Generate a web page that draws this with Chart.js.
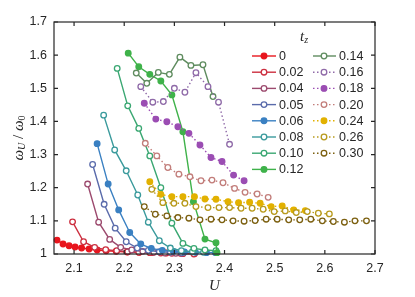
<!DOCTYPE html>
<html>
<head>
<meta charset="utf-8">
<script src="https://cdn.jsdelivr.net/npm/chart.js@4/dist/chart.umd.min.js"></script>
<style>
  html, body { margin: 0; padding: 0; background: #fff; }
  #wrap { width: 415px; height: 297px; }
</style>
</head>
<body>
<div id="wrap"><canvas id="chart" width="415" height="297"></canvas></div>
<script>
// legend labels (t_z)
const tzLabels = ['0', '0.02', '0.04', '0.05', '0.06', '0.08', '0.10', '0.12',
                  '0.14', '0.16', '0.18', '0.20', '0.24', '0.26', '0.30'];

// tick labels
const xTicks = [2.1, 2.2, 2.3, 2.4, 2.5, 2.6, 2.7];
const yTicks = [1, 1.1, 1.2, 1.3, 1.4, 1.5, 1.6, 1.7];

// U values and omega_U/omega_0 values, one pair per t_z
const u000 = [2.066, 2.078, 2.09, 2.102, 2.115, 2.13, 2.146, 2.164, 2.184, 2.206, 2.23, 2.256, 2.284, 2.312, 2.34];
const w000 = [1.042, 1.03, 1.025, 1.021, 1.018, 1.015, 1.012, 1.01, 1.008, 1.006, 1.005, 1.004, 1.003, 1.002, 1.001];

const u002 = [2.097, 2.119, 2.141, 2.163, 2.185, 2.207, 2.229, 2.251, 2.273, 2.295, 2.317, 2.339];
const w002 = [1.097, 1.037, 1.02, 1.013, 1.01, 1.007, 1.005, 1.004, 1.003, 1.002, 1.001, 1.0];

const u004 = [2.127, 2.149, 2.171, 2.193, 2.215, 2.237, 2.259, 2.281, 2.303];
const w004 = [1.211, 1.096, 1.044, 1.02, 1.012, 1.008, 1.005, 1.003, 1.002];

const u005 = [2.137, 2.16, 2.182, 2.204, 2.226, 2.248, 2.27, 2.292, 2.314];
const w005 = [1.27, 1.15, 1.078, 1.037, 1.018, 1.011, 1.007, 1.005, 1.003];

const u006 = [2.146, 2.168, 2.189, 2.211, 2.233, 2.254, 2.276, 2.298, 2.32, 2.342, 2.364, 2.382];
const w006 = [1.333, 1.211, 1.133, 1.065, 1.03, 1.017, 1.011, 1.008, 1.006, 1.005, 1.004, 1.004];

const u008 = [2.159, 2.181, 2.204, 2.227, 2.248, 2.27, 2.292, 2.314, 2.336, 2.358];
const w008 = [1.419, 1.314, 1.251, 1.178, 1.096, 1.04, 1.018, 1.01, 1.007, 1.005];

const u010 = [2.186, 2.207, 2.229, 2.251, 2.273, 2.295, 2.317, 2.339, 2.361, 2.383];
const w010 = [1.56, 1.447, 1.379, 1.296, 1.2, 1.093, 1.032, 1.017, 1.012, 1.01];

const u012 = [2.208, 2.229, 2.251, 2.273, 2.295, 2.317, 2.338, 2.361, 2.383, 2.385];
const w012 = [1.606, 1.565, 1.542, 1.522, 1.48, 1.369, 1.158, 1.045, 1.034, 1.004];

const u014 = [2.224, 2.245, 2.268, 2.29, 2.311, 2.333, 2.357, 2.377];
const w014 = [1.546, 1.515, 1.548, 1.542, 1.594, 1.569, 1.571, 1.475];

const u016 = [2.233, 2.257, 2.278, 2.3, 2.321, 2.343, 2.367, 2.388, 2.41];
const w016 = [1.505, 1.458, 1.46, 1.5, 1.488, 1.547, 1.505, 1.458, 1.331];

const u018 = [2.24, 2.263, 2.285, 2.307, 2.329, 2.351, 2.373, 2.395, 2.418, 2.439];
const w018 = [1.455, 1.407, 1.399, 1.384, 1.364, 1.329, 1.291, 1.279, 1.238, 1.221];

const u020 = [2.242, 2.265, 2.287, 2.309, 2.331, 2.353, 2.375, 2.397, 2.42, 2.441, 2.465, 2.487];
const w020 = [1.334, 1.296, 1.261, 1.241, 1.233, 1.221, 1.223, 1.215, 1.198, 1.186, 1.181, 1.171];

const u024 = [2.251, 2.273, 2.295, 2.317, 2.34, 2.361, 2.383, 2.407, 2.428, 2.45, 2.471, 2.493, 2.515, 2.538, 2.561];
const w024 = [1.218, 1.18, 1.173, 1.173, 1.173, 1.166, 1.165, 1.158, 1.155, 1.156, 1.153, 1.143, 1.145, 1.133, 1.131];

const u026 = [2.255, 2.277, 2.299, 2.321, 2.343, 2.367, 2.389, 2.41, 2.433, 2.455, 2.477, 2.499, 2.521, 2.543, 2.565, 2.587, 2.609];
const w026 = [1.195, 1.155, 1.153, 1.153, 1.143, 1.14, 1.14, 1.14, 1.138, 1.138, 1.135, 1.128, 1.13, 1.125, 1.128, 1.123, 1.121];

const u030 = [2.24, 2.262, 2.285, 2.307, 2.329, 2.351, 2.373, 2.395, 2.417, 2.439, 2.461, 2.483, 2.505, 2.528, 2.55, 2.572, 2.595, 2.617, 2.639, 2.66, 2.683];
const w030 = [1.143, 1.12, 1.115, 1.11, 1.108, 1.103, 1.105, 1.103, 1.1, 1.099, 1.101, 1.105, 1.105, 1.103, 1.103, 1.105, 1.1, 1.098, 1.096, 1.1, 1.1];

const uAll = [u000, u002, u004, u005, u006, u008, u010, u012, u014, u016, u018, u020, u024, u026, u030];
const wAll = [w000, w002, w004, w005, w006, w008, w010, w012, w014, w016, w018, w020, w024, w026, w030];

// styles: colour, filled marker, dotted line
const colors = ['#e8161e', '#cc2f3f', '#9c4a6e', '#5a6bab', '#3a80c2', '#3a9a9c', '#3aa772', '#3fb24a',
                '#5f8c5f', '#8f6aa8', '#9b4db3', '#c27d7a', '#e2b100', '#b89a1c', '#7c6010'];
const filled = [true, false, false, false, true, false, false, true,
                false, false, true, false, true, false, false];
const dotted = [false, false, false, false, false, false, false, false,
                false, true, true, true, true, true, true];

const datasets = tzLabels.map((lab, i) => ({
  label: lab,
  data: uAll[i].map((u, k) => ({ x: u, y: wAll[i][k] })),
  borderColor: colors[i],
  backgroundColor: colors[i],
  pointBackgroundColor: filled[i] ? colors[i] : '#ffffff',
  pointBorderColor: colors[i],
  pointRadius: 2.8,
  pointBorderWidth: 1.3,
  borderWidth: 1.4,
  borderDash: dotted[i] ? [1.5, 2.5] : [],
  tension: 0,
  clip: false,
  order: tzLabels.length - i
}));

const frameColor = '#262626';

const framePlugin = {
  id: 'frame',
  afterDraw(chart) {
    const ctx = chart.ctx;
    const a = chart.chartArea;
    const xs = chart.scales.x, ys = chart.scales.y;
    ctx.save();
    ctx.strokeStyle = frameColor;
    ctx.lineWidth = 1.2;
    ctx.strokeRect(a.left, a.top, a.right - a.left, a.bottom - a.top);
    // inward tick marks on all sides
    const tl = 4;
    ctx.beginPath();
    xs.ticks.forEach(t => {
      const px = xs.getPixelForValue(t.value);
      ctx.moveTo(px, a.bottom); ctx.lineTo(px, a.bottom - tl);
      ctx.moveTo(px, a.top); ctx.lineTo(px, a.top + tl);
    });
    ys.ticks.forEach(t => {
      const py = ys.getPixelForValue(t.value);
      ctx.moveTo(a.left, py); ctx.lineTo(a.left + tl, py);
      ctx.moveTo(a.right, py); ctx.lineTo(a.right - tl, py);
    });
    ctx.stroke();

    // axis titles
    ctx.fillStyle = frameColor;
    ctx.textBaseline = 'middle';
    ctx.font = 'italic 15px "Liberation Serif"';
    ctx.textAlign = 'center';
    ctx.fillText('U', (a.left + a.right) / 2, 286);

    // y title: ω_U / ω_0
    const big = 'italic 15px "Liberation Serif"';
    const sub = 'italic 10px "Liberation Serif"';
    const subUp = '10px "Liberation Serif"';
    const parts = [
      { t: 'ω', f: big, dy: 0 },
      { t: 'U', f: sub, dy: 3 },
      { t: ' / ', f: '15px "Liberation Serif"', dy: 0 },
      { t: 'ω', f: big, dy: 0 },
      { t: '0', f: subUp, dy: 3 }
    ];
    let total = 0;
    parts.forEach(p => { ctx.font = p.f; p.w = ctx.measureText(p.t).width; total += p.w; });
    ctx.translate(19, (a.top + a.bottom) / 2);
    ctx.rotate(-Math.PI / 2);
    ctx.textAlign = 'left';
    let x0 = -total / 2;
    parts.forEach(p => { ctx.font = p.f; ctx.fillText(p.t, x0, p.dy); x0 += p.w; });
    ctx.restore();

    // legend
    ctx.save();
    ctx.fillStyle = frameColor;
    ctx.textBaseline = 'middle';
    ctx.textAlign = 'left';
    ctx.font = 'italic 15px "Liberation Serif"';
    ctx.fillText('t', 300, 37);
    const tw = ctx.measureText('t').width;
    ctx.font = 'italic 10px "Liberation Serif"';
    ctx.fillText('z', 300 + tw, 40);

    const cols = [{ l0: 252, l1: 276, m: 264, tx: 279 }, { l0: 313, l1: 336, m: 324, tx: 339 }];
    chart.data.datasets.forEach((ds, i) => {
      const c = cols[i < 8 ? 0 : 1];
      const y = 56 + (i % 8) * 16.2;
      ctx.strokeStyle = ds.borderColor;
      ctx.lineWidth = ds.borderWidth;
      ctx.setLineDash(ds.borderDash);
      ctx.beginPath();
      ctx.moveTo(c.l0, y); ctx.lineTo(c.l1, y);
      ctx.stroke();
      ctx.setLineDash([]);
      ctx.beginPath();
      ctx.arc(c.m, y, ds.pointRadius, 0, Math.PI * 2);
      ctx.fillStyle = ds.pointBackgroundColor;
      ctx.fill();
      ctx.lineWidth = ds.pointBorderWidth;
      ctx.strokeStyle = ds.pointBorderColor;
      ctx.stroke();
      ctx.fillStyle = frameColor;
      ctx.font = '12.5px "Liberation Sans"';
      ctx.fillText(ds.label, c.tx, y + 0.5);
    });
    ctx.restore();
  }
};

new Chart(document.getElementById('chart').getContext('2d'), {
  type: 'line',
  data: { datasets: datasets },
  options: {
    responsive: false,
    animation: false,
    events: [],
    layout: { padding: { top: 22, right: 40, left: 0, bottom: 0 } },
    plugins: { legend: { display: false }, tooltip: { enabled: false } },
    scales: {
      x: {
        type: 'linear',
        min: 2.06,
        max: 2.7,
        afterBuildTicks: s => { s.ticks = xTicks.map(v => ({ value: v })); },
        afterFit: s => { s.height = 43; },
        grid: { display: true, drawOnChartArea: false, drawTicks: false, color: 'rgba(0,0,0,0)' },
        border: { display: false },
        ticks: {
          color: frameColor,
          padding: 7,
          maxRotation: 0,
          font: { family: 'Liberation Sans', size: 12.5 },
          callback: v => v.toFixed(1)
        }
      },
      y: {
        type: 'linear',
        min: 1,
        max: 1.7,
        afterBuildTicks: s => { s.ticks = yTicks.map(v => ({ value: v })); },
        afterFit: s => { s.width = 54; },
        grid: { display: true, drawOnChartArea: false, drawTicks: false, color: 'rgba(0,0,0,0)' },
        border: { display: false },
        ticks: {
          color: frameColor,
          padding: 7,
          font: { family: 'Liberation Sans', size: 12.5 },
          callback: v => (v === 1 ? '1' : v.toFixed(1))
        }
      }
    }
  },
  plugins: [framePlugin]
});
</script>
</body>
</html>
